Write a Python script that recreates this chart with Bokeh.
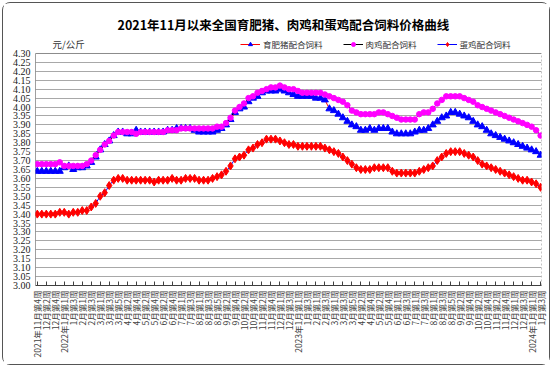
from bokeh.plotting import figure
from bokeh.models import (Legend, LegendItem, FixedTicker, PrintfTickFormatter, Label, Range1d, Span)
from bokeh.embed import file_html
from bokeh.resources import INLINE
import math

title_text = "2021年11月以来全国育肥猪、肉鸡和蛋鸡配合饲料价格曲线"
unit_text = "元/公斤"
series_names = ["育肥猪配合饲料", "肉鸡配合饲料", "蛋鸡配合饲料"]

# labels shown every other week
week_labels = [
    "2021年11月第4周", "12月第2周", "12月第4周", "2022年1月第1周", "1月第3周", "2月第1周",
    "2月第3周", "3月第1周", "3月第3周", "3月第5周", "4月第2周", "4月第4周", "5月第2周",
    "5月第4周", "6月第2周", "6月第4周", "7月第1周", "7月第3周", "8月第1周", "8月第3周",
    "8月第5周", "9月第2周", "9月第4周", "10月第2周", "10月第4周", "11月第2周", "11月第4周",
    "12月第1周", "12月第3周", "2023年1月第1周", "1月第3周", "2月第1周", "2月第3周",
    "3月第1周", "3月第3周", "3月第5周", "4月第2周", "4月第4周", "5月第2周", "5月第4周",
    "6月第1周", "6月第3周", "7月第1周", "7月第3周", "8月第1周", "8月第3周", "8月第5周",
    "9月第2周", "9月第4周", "10月第2周", "10月第4周", "11月第2周", "11月第4周", "12月第1周",
    "12月第3周", "2024年1月第1周", "1月第3周",
]

pig = [
    3.64, 3.64, 3.64, 3.64, 3.64, 3.64, 3.66, 3.67, 3.65, 3.66,
    3.66, 3.67, 3.69, 3.72, 3.76, 3.79, 3.81, 3.84, 3.86, 3.86,
    3.85, 3.85, 3.87, 3.86, 3.86, 3.86, 3.86, 3.86, 3.86, 3.87,
    3.87, 3.88, 3.88, 3.88, 3.88, 3.87, 3.86, 3.86, 3.86, 3.86,
    3.87, 3.88, 3.90, 3.93, 3.97, 3.99, 4.00, 4.03, 4.05, 4.06,
    4.08, 4.09, 4.09, 4.09, 4.10, 4.09, 4.08, 4.07, 4.06, 4.06,
    4.06, 4.06, 4.05, 4.05, 4.04, 3.99, 3.98, 3.96, 3.94, 3.92,
    3.90, 3.89, 3.87, 3.87, 3.88, 3.87, 3.88, 3.88, 3.88, 3.86,
    3.85, 3.85, 3.85, 3.85, 3.86, 3.87, 3.87, 3.88, 3.90, 3.92,
    3.94, 3.95, 3.97, 3.97, 3.96, 3.95, 3.94, 3.92, 3.90, 3.89,
    3.87, 3.85, 3.84, 3.83, 3.82, 3.81, 3.80, 3.79, 3.78, 3.77,
    3.76, 3.75, 3.73,
]

broiler = [
    3.68, 3.68, 3.68, 3.68, 3.68, 3.69, 3.67, 3.67, 3.67, 3.67,
    3.67, 3.68, 3.70, 3.73, 3.76, 3.79, 3.81, 3.84, 3.86, 3.86,
    3.86, 3.86, 3.85, 3.86, 3.86, 3.86, 3.86, 3.86, 3.86, 3.87,
    3.87, 3.87, 3.88, 3.88, 3.88, 3.88, 3.88, 3.88, 3.88, 3.88,
    3.89, 3.89, 3.91, 3.94, 3.98, 4.00, 4.02, 4.05, 4.06, 4.08,
    4.09, 4.10, 4.11, 4.11, 4.12, 4.11, 4.10, 4.10, 4.09, 4.08,
    4.08, 4.08, 4.08, 4.08, 4.07, 4.06, 4.05, 4.04, 4.03, 4.01,
    3.98, 3.97, 3.96, 3.96, 3.96, 3.96, 3.97, 3.97, 3.96, 3.95,
    3.94, 3.93, 3.93, 3.93, 3.93, 3.96, 3.97, 3.97, 3.99, 4.02,
    4.04, 4.06, 4.06, 4.06, 4.06, 4.05, 4.04, 4.03, 4.01, 4.00,
    3.99, 3.98, 3.97, 3.96, 3.95, 3.94, 3.93, 3.92, 3.91, 3.90,
    3.89, 3.87, 3.84,
]

layer = [
    3.40, 3.40, 3.40, 3.40, 3.40, 3.41, 3.41, 3.40, 3.41, 3.41,
    3.42, 3.42, 3.44, 3.46, 3.50, 3.52, 3.56, 3.59, 3.60, 3.60,
    3.59, 3.59, 3.59, 3.59, 3.59, 3.59, 3.58, 3.59, 3.59, 3.59,
    3.60, 3.59, 3.59, 3.60, 3.60, 3.60, 3.59, 3.59, 3.59, 3.60,
    3.61, 3.62, 3.64, 3.67, 3.71, 3.72, 3.73, 3.76, 3.77, 3.79,
    3.80, 3.82, 3.82, 3.82, 3.81, 3.80, 3.79, 3.79, 3.78, 3.78,
    3.78, 3.78, 3.78, 3.78, 3.77, 3.76, 3.75, 3.74, 3.72, 3.70,
    3.68, 3.66, 3.65, 3.65, 3.65, 3.66, 3.66, 3.66, 3.66, 3.64,
    3.63, 3.63, 3.63, 3.63, 3.63, 3.64, 3.65, 3.66, 3.67, 3.70,
    3.72, 3.74, 3.75, 3.75, 3.75, 3.74, 3.73, 3.72, 3.70, 3.68,
    3.67, 3.66, 3.65, 3.64, 3.63, 3.62, 3.61, 3.60, 3.59, 3.59,
    3.58, 3.57, 3.55,
]

y_min, y_max = 3.00, 4.30
y_ticks = [round(y_min + 0.05 * k, 2) for k in range(27)]

n = len(pig)
weeks = list(range(n))
label_positions = list(range(0, n, 2))
x_start, x_end = -0.4, n - 0.8

# frame extends above 4.30 so the legend and unit label (clipped to frame) can sit there
p = figure(width=548, height=363, output_backend="svg", toolbar_location=None,
           x_range=Range1d(x_start, x_end), y_range=Range1d(y_min, 4.412),
           min_border_left=32, min_border_right=10, min_border_top=30, min_border_bottom=81)

p.title.text = title_text
p.title.align = "left"
p.title.offset = 82
p.title.text_font = "Noto Sans CJK SC"
p.title.text_font_size = "12.5px"
p.title.text_font_style = "bold"
p.title.text_color = "#000000"
p.title.standoff = 0

p.outline_line_color = None
p.background_fill_color = "white"
p.border_fill_color = "white"
p.styles = {"border": "1px solid #555555", "border-radius": "8px", "margin": "2px"}

p.xgrid.visible = False
p.ygrid.grid_line_color = "#a8a8a8"
p.ygrid.grid_line_width = 1.2

# axes
p.xaxis.ticker = FixedTicker(ticks=label_positions)
p.xaxis.major_label_overrides = {pos: lab for pos, lab in zip(label_positions, week_labels)}
p.xaxis.major_label_orientation = math.pi / 2
p.xaxis.major_label_text_font = "Noto Sans CJK SC"
p.xaxis.major_label_text_font_size = "8.5px"
p.xaxis.major_label_text_color = "#404040"
p.xaxis.major_tick_in = 4
p.xaxis.major_tick_out = 0
p.xaxis.minor_tick_line_color = None
p.xaxis.axis_line_color = "#404040"
p.xaxis.major_tick_line_color = "#404040"
p.xaxis.major_label_standoff = 5

p.yaxis.ticker = FixedTicker(ticks=y_ticks)
p.yaxis.formatter = PrintfTickFormatter(format="%.2f")
p.yaxis.major_label_text_font = "Liberation Serif"
p.yaxis.major_label_text_font_size = "10px"
p.yaxis.major_label_text_color = "#202020"
p.yaxis.major_tick_in = 0
p.yaxis.major_tick_out = 0
p.yaxis.minor_tick_line_color = None
p.yaxis.axis_line_color = None
p.yaxis.major_label_standoff = 5

# plot-area box (top at 4.30, left solid, right dotted)
p.add_layout(Span(location=y_max, dimension="width", line_color="#8c8c8c", line_width=1))
p.segment(x0=[x_start], y0=[y_min], x1=[x_start], y1=[y_max], line_color="#404040", line_width=1)
p.segment(x0=[x_end], y0=[y_min], x1=[x_end], y1=[y_max], line_color="#8c8c8c", line_width=1,
          line_dash="2 2")

# series
l_pig = p.line(weeks, pig, line_color="#ff0000", line_width=1)
s_pig = p.scatter(weeks, pig, marker="triangle", size=7, fill_color="#0000ff", line_color="#0000ff")
l_bro = p.line(weeks, broiler, line_color="#000000", line_width=1)
s_bro = p.scatter(weeks, broiler, marker="circle", size=5.5, fill_color="#ff00ff", line_color="#ff00ff")
l_lay = p.line(weeks, layer, line_color="#0000ff", line_width=1)
s_lay = p.scatter(weeks, layer, marker="diamond", size=8, fill_color="#ff0000", line_color="#ff0000")

legend = Legend(items=[
    LegendItem(label=series_names[0], renderers=[l_pig, s_pig]),
    LegendItem(label=series_names[1], renderers=[l_bro, s_bro]),
    LegendItem(label=series_names[2], renderers=[l_lay, s_lay]),
], orientation="horizontal", location=(205, 235))
legend.label_text_font = "Noto Sans CJK SC"
legend.label_text_font_size = "8.5px"
legend.label_text_color = "#333333"
legend.background_fill_alpha = 0
legend.border_line_color = None
legend.glyph_width = 20
legend.glyph_height = 10
legend.spacing = 20
legend.padding = 2
legend.margin = 0
legend.label_standoff = 3
p.add_layout(legend)

p.add_layout(Label(x=3.4, y=4.352, text=unit_text, text_font="Noto Sans CJK SC",
                   text_font_size="9.5px", text_color="#333333", text_baseline="middle"))

open("out.html", "w").write(file_html(p, INLINE))
